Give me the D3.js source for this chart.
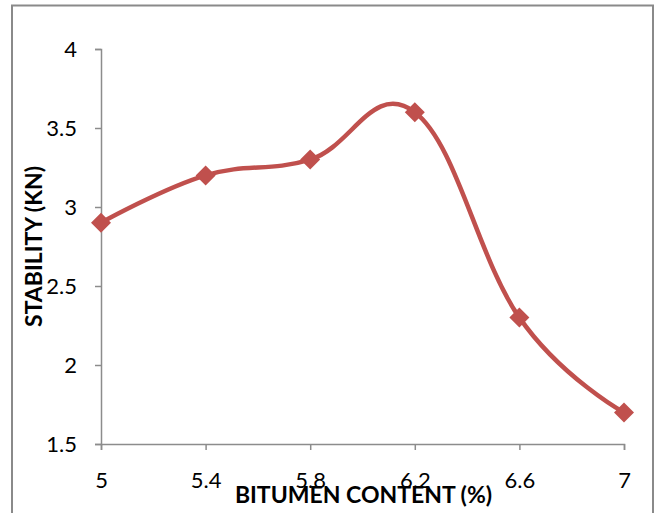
<!DOCTYPE html>
<html>
<head>
<meta charset="utf-8">
<script src="https://cdn.jsdelivr.net/npm/d3@7"></script>
<style>
  body { margin: 0; background: white; }
  text { font-family: Lato, "Open Sans", sans-serif; fill: black; }
</style>
</head>
<body>
<div id="chart"></div>
<script>
// bitumen content (%) vs stability (kN)
var bitumen = [5, 5.4, 5.8, 6.2, 6.6, 7];
var stability = [2.9, 3.2, 3.3, 3.6, 2.3, 1.7];
var xTicks = [5, 5.4, 5.8, 6.2, 6.6, 7];
var yTicks = [1.5, 2, 2.5, 3, 3.5, 4];

var W = 660, H = 513;
var plotLeft = 101, plotRight = 624, plotTop = 49, plotBottom = 444;

var svg = d3.select("#chart")
    .append("svg")
    .attr("width", W)
    .attr("height", H);

// outer frame
svg.append("rect")
    .attr("x", 12)
    .attr("y", 5.5)
    .attr("width", 641)
    .attr("height", 520)
    .style("fill", "none")
    .style("stroke", "#8a8a8a")
    .style("stroke-width", 2);

var x = d3.scaleLinear().domain([5, 7]).range([plotLeft, plotRight]);
var y = d3.scaleLinear().domain([1.5, 4]).range([plotBottom, plotTop]);

var xAxis = svg.append("g")
    .attr("transform", "translate(0," + plotBottom + ")")
    .call(d3.axisBottom(x).tickValues(xTicks).tickSize(6).tickPadding(22)
        .tickFormat(function(d) { return d3.format("")(d); }));

var yAxis = svg.append("g")
    .attr("transform", "translate(" + plotLeft + ",0)")
    .call(d3.axisLeft(y).tickValues(yTicks).tickSize(6).tickPadding(18)
        .tickFormat(function(d) { return d3.format("")(d); }));

[xAxis, yAxis].forEach(function(a) {
    a.select(".domain").style("stroke", "#8c8c8c").style("stroke-width", 1.5);
    a.selectAll(".tick line").style("stroke", "#8c8c8c").style("stroke-width", 1.5);
    a.selectAll("text").style("font-size", "22px").style("font-family", "Lato, sans-serif");
});
xAxis.selectAll("text").attr("dy", "0.71em");

var pts = bitumen.map(function(b, i) { return [b, stability[i]]; });

// excel-style smoothing overshoots a bit more than plain catmull-rom
var line = d3.line()
    .x(function(d) { return x(d[0]); })
    .y(function(d) { return y(d[1]); })
    .curve(d3.curveCardinal.tension(-0.2));

svg.append("path")
    .datum(pts)
    .attr("d", line)
    .style("fill", "none")
    .style("stroke", "#c0504d")
    .style("stroke-width", 4.5);

svg.selectAll(".marker")
    .data(pts)
    .enter()
    .append("path")
    .attr("class", "marker")
    .attr("transform", function(d) { return "translate(" + x(d[0]) + "," + y(d[1]) + ")"; })
    .attr("d", "M0,-10L10,0L0,10L-10,0Z")
    .style("fill", "#c0504d");

svg.append("text")
    .attr("x", (plotLeft + plotRight) / 2 + 1)
    .attr("y", 503)
    .attr("text-anchor", "middle")
    .style("font-size", "23px")
    .style("font-weight", "bold")
    .text("BITUMEN CONTENT (%)");

svg.append("text")
    .attr("transform", "translate(42," + (plotTop + plotBottom) / 2 + ") rotate(-90)")
    .attr("text-anchor", "middle")
    .style("font-size", "23px")
    .style("font-weight", "bold")
    .text("STABILITY (KN)");
</script>
</body>
</html>
